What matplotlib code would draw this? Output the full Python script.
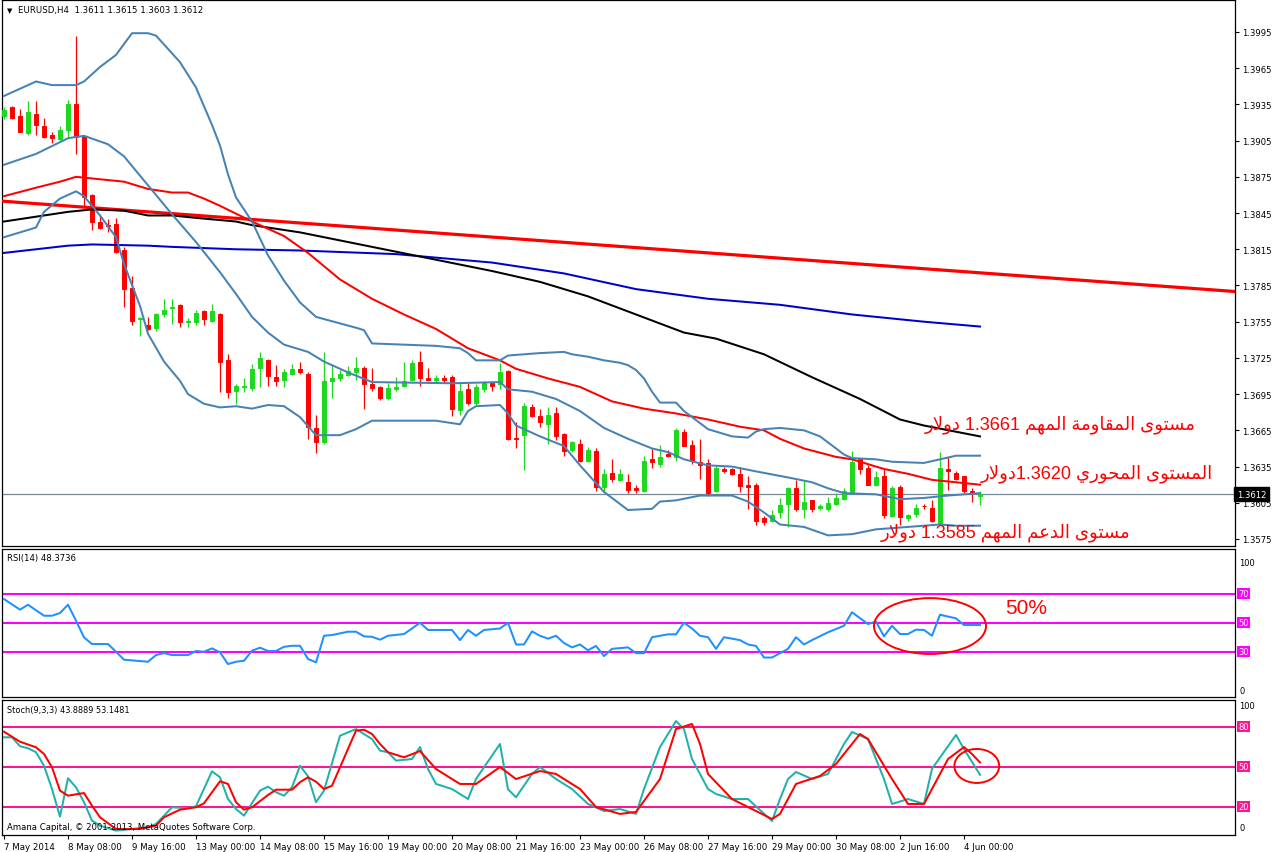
import re
import matplotlib
matplotlib.use("Agg")
import matplotlib.pyplot as plt
from matplotlib.patches import Ellipse

# ---------------- data (EURUSD H4) ----------------
opens = [1.3925, 1.3933, 1.3925, 1.3911, 1.3927, 1.3917, 1.3910, 1.3906, 1.3914, 1.3935,
         1.3909, 1.3860, 1.3838, 1.3835, 1.3836, 1.3814, 1.3783, 1.3757, 1.3752, 1.3750,
         1.3761, 1.3766, 1.3769, 1.3755, 1.3755, 1.3764, 1.3756, 1.3761, 1.3723, 1.3698,
         1.3701, 1.3700, 1.3717, 1.3723, 1.3709, 1.3707, 1.3712, 1.3716, 1.3712, 1.3667,
         1.3655, 1.3706, 1.3708, 1.3711, 1.3713, 1.3717, 1.3703, 1.3701, 1.3692, 1.3699,
         1.3702, 1.3707, 1.3722, 1.3708, 1.3707, 1.3708, 1.3709, 1.3682, 1.3699, 1.3688,
         1.3699, 1.3704, 1.3703, 1.3714, 1.3659, 1.3661, 1.3684, 1.3677, 1.3670, 1.3679,
         1.3662, 1.3649, 1.3654, 1.3640, 1.3648, 1.3618, 1.3630, 1.3624, 1.3622, 1.3617,
         1.3615, 1.3641, 1.3637, 1.3645, 1.3643, 1.3664, 1.3653, 1.3639, 1.3638, 1.3615,
         1.3633, 1.3633, 1.3629, 1.3620, 1.3620, 1.3592, 1.3590, 1.3597, 1.3604, 1.3617,
         1.3600, 1.3607, 1.3601, 1.3600, 1.3604, 1.3608, 1.3614, 1.3641, 1.3634, 1.3620,
         1.3627, 1.3594, 1.3618, 1.3592, 1.3596, 1.3602, 1.3601, 1.3588, 1.3633, 1.3630,
         1.3627, 1.3615, 1.3611]
highs = [1.3933, 1.3934, 1.3931, 1.3938, 1.3938, 1.3924, 1.3912, 1.3917, 1.3939, 1.3992,
         1.3910, 1.3861, 1.3843, 1.3840, 1.3841, 1.3817, 1.3793, 1.3759, 1.3759, 1.3762,
         1.3774, 1.3774, 1.3770, 1.3758, 1.3765, 1.3765, 1.3770, 1.3762, 1.3728, 1.3703,
         1.3708, 1.3720, 1.3730, 1.3724, 1.3719, 1.3716, 1.3720, 1.3722, 1.3713, 1.3678,
         1.3730, 1.3719, 1.3715, 1.3718, 1.3726, 1.3718, 1.3717, 1.3702, 1.3704, 1.3709,
         1.3722, 1.3723, 1.3731, 1.3717, 1.3711, 1.3711, 1.3711, 1.3704, 1.3704, 1.3703,
         1.3706, 1.3706, 1.3721, 1.3715, 1.3672, 1.3688, 1.3687, 1.3683, 1.3684, 1.3684,
         1.3663, 1.3656, 1.3658, 1.3651, 1.3650, 1.3633, 1.3641, 1.3633, 1.3629, 1.3620,
         1.3644, 1.3650, 1.3653, 1.3649, 1.3667, 1.3666, 1.3657, 1.3658, 1.3641, 1.3636,
         1.3635, 1.3634, 1.3635, 1.3627, 1.3621, 1.3594, 1.3599, 1.3609, 1.3618, 1.3624,
         1.3623, 1.3607, 1.3604, 1.3610, 1.3613, 1.3617, 1.3648, 1.3642, 1.3636, 1.3631,
         1.3633, 1.3619, 1.3620, 1.3596, 1.3604, 1.3604, 1.3607, 1.3647, 1.3643, 1.3631,
         1.3627, 1.3617, 1.3615]
lows = [1.3923, 1.3923, 1.3912, 1.3910, 1.3910, 1.3907, 1.3903, 1.3905, 1.3908, 1.3894,
        1.3850, 1.3831, 1.3832, 1.3829, 1.3812, 1.3767, 1.3752, 1.3743, 1.3748, 1.3747,
        1.3759, 1.3753, 1.3751, 1.3751, 1.3752, 1.3752, 1.3755, 1.3697, 1.3692, 1.3687,
        1.3697, 1.3698, 1.3701, 1.3702, 1.3702, 1.3701, 1.3711, 1.3712, 1.3658, 1.3646,
        1.3654, 1.3692, 1.3706, 1.3710, 1.3707, 1.3683, 1.3698, 1.3690, 1.3690, 1.3698,
        1.3701, 1.3706, 1.3702, 1.3706, 1.3704, 1.3704, 1.3677, 1.3678, 1.3686, 1.3686,
        1.3697, 1.3698, 1.3699, 1.3657, 1.3650, 1.3632, 1.3676, 1.3668, 1.3654, 1.3657,
        1.3644, 1.3647, 1.3639, 1.3639, 1.3615, 1.3614, 1.3622, 1.3623, 1.3613, 1.3613,
        1.3614, 1.3634, 1.3635, 1.3643, 1.3640, 1.3652, 1.3637, 1.3625, 1.3611, 1.3614,
        1.3630, 1.3628, 1.3614, 1.3600, 1.3587, 1.3587, 1.3589, 1.3592, 1.3585, 1.3598,
        1.3592, 1.3597, 1.3599, 1.3598, 1.3603, 1.3607, 1.3613, 1.3629, 1.3620, 1.3619,
        1.3592, 1.3593, 1.3587, 1.3590, 1.3593, 1.3600, 1.3589, 1.3587, 1.3616, 1.3624,
        1.3613, 1.3606, 1.3603]
closes = [1.3930, 1.3924, 1.3912, 1.3929, 1.3918, 1.3908, 1.3907, 1.3914, 1.3935, 1.3908,
          1.3858, 1.3838, 1.3833, 1.3834, 1.3813, 1.3782, 1.3756, 1.3758, 1.3749, 1.3761,
          1.3765, 1.3767, 1.3755, 1.3756, 1.3762, 1.3757, 1.3764, 1.3722, 1.3697, 1.3702,
          1.3702, 1.3716, 1.3725, 1.3710, 1.3706, 1.3713, 1.3716, 1.3713, 1.3668, 1.3655,
          1.3706, 1.3708, 1.3712, 1.3714, 1.3717, 1.3703, 1.3700, 1.3692, 1.3700, 1.3701,
          1.3706, 1.3721, 1.3708, 1.3707, 1.3708, 1.3707, 1.3683, 1.3698, 1.3688, 1.3701,
          1.3704, 1.3702, 1.3713, 1.3658, 1.3658, 1.3685, 1.3677, 1.3672, 1.3678, 1.3660,
          1.3648, 1.3655, 1.3640, 1.3649, 1.3618, 1.3629, 1.3625, 1.3629, 1.3616, 1.3616,
          1.3640, 1.3639, 1.3643, 1.3644, 1.3665, 1.3652, 1.3640, 1.3636, 1.3613, 1.3634,
          1.3631, 1.3629, 1.3619, 1.3618, 1.3590, 1.3589, 1.3595, 1.3603, 1.3617, 1.3600,
          1.3606, 1.3600, 1.3602, 1.3605, 1.3609, 1.3615, 1.3639, 1.3633, 1.3620, 1.3626,
          1.3595, 1.3617, 1.3593, 1.3595, 1.3601, 1.3602, 1.3590, 1.3634, 1.3631, 1.3625,
          1.3615, 1.3613, 1.3612]

# Bollinger bands (at selected bars)
bb_up_idx = [0, 4, 6, 9, 10, 12, 14, 16, 18, 19, 22, 24, 26, 27, 28, 29, 31, 33, 35, 37, 39,
             44, 45, 46, 50, 54, 57, 58, 59, 62, 63, 67, 70, 71, 73, 75, 77, 78, 79, 80, 81, 82,
             84, 85, 88, 91, 93, 94, 95, 97, 100, 102, 104, 105, 106, 109, 111, 115, 117, 119, 122]
bb_up = [1.3942, 1.3954, 1.3951, 1.3951, 1.3954, 1.3966, 1.3976, 1.3994, 1.3994, 1.3992, 1.3970,
         1.3949, 1.3918, 1.3901, 1.3877, 1.3858, 1.3838, 1.3810, 1.3789, 1.3771, 1.3759,
         1.3750, 1.3748, 1.3737, 1.3736, 1.3735, 1.3733, 1.3729, 1.3723, 1.3723, 1.3727,
         1.3729, 1.3730, 1.3728, 1.3726, 1.3723, 1.3721, 1.3719, 1.3715, 1.3708, 1.3697,
         1.3688, 1.3688, 1.3681, 1.3666, 1.3660, 1.3659, 1.3664, 1.3666, 1.3667, 1.3665,
         1.3660, 1.3650, 1.3645, 1.3642, 1.3641, 1.3639, 1.3638, 1.3641, 1.3644, 1.3644]
bb_mid_idx = [0, 4, 8, 10, 13, 15, 18, 21, 24, 27, 29, 31, 33, 35, 38, 40, 43, 46, 56, 62, 63,
              66, 69, 72, 75, 78, 81, 83, 85, 88, 91, 94, 98, 101, 103, 105, 109, 112, 115, 118, 122]
bb_mid = [1.3885, 1.3894, 1.3907, 1.3909, 1.3902, 1.3892, 1.3868, 1.3844, 1.3821, 1.3796,
          1.3778, 1.3759, 1.3746, 1.3736, 1.3730, 1.3722, 1.3713, 1.3705, 1.3704, 1.3705,
          1.3699, 1.3697, 1.3691, 1.3681, 1.3667, 1.3658, 1.3650, 1.3647, 1.3641, 1.3636,
          1.3635, 1.3631, 1.3626, 1.3622, 1.3617, 1.3613, 1.3612, 1.3608, 1.3609, 1.3611, 1.3613]
bb_low_idx = [0, 4, 5, 7, 9, 10, 12, 14, 15, 17, 18, 20, 22, 23, 25, 27, 29, 31, 33, 35, 37, 39,
              42, 44, 46, 54, 57, 58, 59, 62, 63, 64, 67, 70, 72, 75, 78, 81, 82, 84, 87, 91,
              93, 95, 97, 100, 103, 106, 109, 113, 117, 119, 122]
bb_low = [1.3825, 1.3833, 1.3846, 1.3857, 1.3863, 1.3859, 1.3843, 1.3825, 1.3803, 1.3768,
          1.3745, 1.3722, 1.3706, 1.3695, 1.3687, 1.3684, 1.3685, 1.3683, 1.3686, 1.3685,
          1.3676, 1.3661, 1.3661, 1.3666, 1.3673, 1.3673, 1.3670, 1.3681, 1.3685, 1.3686,
          1.3679, 1.3669, 1.3660, 1.3652, 1.3636, 1.3614, 1.3599, 1.3600, 1.3606, 1.3607,
          1.3611, 1.3611, 1.3606, 1.3597, 1.3587, 1.3585, 1.3578, 1.3579, 1.3583, 1.3585,
          1.3587, 1.3586, 1.3586]

# moving averages
ma_red_idx = [0, 4, 7, 9, 12, 15, 18, 21, 23, 25, 27, 31, 35, 38, 42, 46, 50, 54, 58, 62, 64,
              68, 72, 76, 80, 84, 88, 92, 95, 97, 100, 104, 106, 110, 113, 116, 119, 122]
ma_red = [1.3859, 1.3866, 1.3871, 1.3875, 1.3873, 1.3871, 1.3865, 1.3862, 1.3862, 1.3857,
          1.3851, 1.3838, 1.3826, 1.3812, 1.3790, 1.3774, 1.3761, 1.3749, 1.3733, 1.3723,
          1.3716, 1.3708, 1.3701, 1.3689, 1.3683, 1.3679, 1.3674, 1.3668, 1.3665, 1.3658,
          1.3650, 1.3643, 1.3641, 1.3633, 1.3629, 1.3624, 1.3622, 1.3620]
ma_black_idx = [0, 4, 8, 11, 15, 18, 21, 24, 29, 31, 37, 43, 49, 55, 61, 67, 73, 79, 85, 89,
                95, 101, 107, 112, 115, 122]
ma_black = [1.3838, 1.3842, 1.3846, 1.3848, 1.3847, 1.3843, 1.3843, 1.3841, 1.3838, 1.3835,
            1.3829, 1.3821, 1.3813, 1.3805, 1.3797, 1.3788, 1.3776, 1.3761, 1.3746, 1.3741,
            1.3728, 1.3709, 1.3691, 1.3674, 1.3669, 1.3660]
ma_blue_idx = [0, 4, 8, 11, 18, 21, 29, 37, 49, 61, 70, 79, 88, 97, 106, 115, 122]
ma_blue = [1.3812, 1.3815, 1.3818, 1.3819, 1.3818, 1.3817, 1.3815, 1.3814, 1.3811, 1.3804,
           1.3795, 1.3782, 1.3774, 1.3769, 1.3761, 1.3755, 1.3751]

# trend line anchors (bar, price)
trend_idx = [-0.5, 153.9]
trend_val = [1.3855, 1.3780]

last_price = 1.3612

# RSI(14)
rsi_idx = [0, 2, 3, 5, 6, 7, 8, 9, 10, 11, 13, 14, 15, 18, 19, 20, 21, 23, 24, 25, 26, 27, 28,
           29, 30, 31, 32, 33, 34, 35, 36, 37, 38, 39, 40, 41, 43, 44, 45, 46, 47, 48, 50,
           51, 52, 53, 54, 56, 57, 58, 59, 60, 62, 63, 64, 65, 66, 67, 68, 69, 70, 71, 72, 73,
           74, 75, 76, 78, 79, 80, 81, 83, 84, 85, 86, 87, 88, 89, 90, 92, 93, 94, 95, 96, 97,
           98, 99, 100, 101, 103, 105, 106, 108, 109, 110, 111, 112, 113, 114, 115, 116, 117,
           119, 120, 122]
rsi_val = [66.3, 59.0, 62.4, 54.8, 54.8, 56.7, 62.4, 51.4, 39.9, 35.3, 35.3, 30.0, 24.5, 23.1,
           27.7, 29.1, 27.7, 27.7, 30.5, 30.0, 32.3, 29.6, 21.5, 23.1, 23.8, 30.7, 32.8, 30.5,
           30.5, 33.4, 34.1, 34.1, 25.0, 22.7, 41.0, 41.5, 43.8, 43.8, 40.6, 40.3, 38.3, 41.0,
           42.2, 46.0, 50.0, 45.0, 45.0, 45.0, 38.0, 45.0, 41.0, 45.0, 46.0, 50.0, 35.0, 35.0,
           44.0, 41.0, 39.0, 41.0, 36.0, 33.0, 35.0, 31.0, 34.0, 27.0, 32.0, 33.0, 29.0, 29.0,
           40.0, 42.0, 42.0, 50.0, 46.0, 41.0, 40.0, 32.0, 40.0, 38.0, 35.0, 34.0, 26.0, 26.0,
           29.0, 32.0, 40.0, 35.0, 38.0, 43.4, 47.9, 57.2, 49.1, 50.7, 40.6, 47.9, 42.2, 42.2,
           45.2, 45.0, 41.0, 55.5, 53.0, 48.4, 48.4]

# Stochastic(9,3,3)
stk_idx = [0, 1, 2, 3, 4, 5, 6, 7, 8, 9, 10, 11, 12, 14, 16, 18, 19, 20, 21, 23, 24, 26, 27,
           28, 29, 30, 32, 33, 34, 35, 36, 37, 38, 39, 40, 42, 44, 46, 47, 48, 49, 51, 52, 53,
           54, 56, 58, 59, 62, 63, 64, 66, 67, 69, 71, 73, 75, 77, 79, 80, 82, 84, 85, 86, 88,
           89, 91, 93, 96, 97, 98, 99, 101, 103, 105, 106, 108, 110, 111, 113, 115, 116, 119,
           120, 122]
stk_val = [72.0, 72.0, 65.3, 63.8, 60.8, 50.7, 33.2, 12.5, 41.3, 34.5, 23.3, 9.5, 5.7, 2.0,
           3.2, 4.5, 7.0, 13.2, 19.5, 18.8, 20.3, 46.5, 42.0, 25.7, 18.2, 13.2, 32.0, 35.0,
           30.8, 28.2, 34.5, 50.7, 42.8, 23.3, 32.0, 73.2, 78.2, 70.7, 62.0, 60.8, 54.5, 55.7,
           64.7, 48.3, 37.0, 33.2, 25.7, 40.7, 67.0, 33.0, 27.0, 44.5, 49.7, 40.7, 33.2, 22.0,
           16.7, 18.2, 14.5, 33.2, 64.7, 84.2, 78.2, 55.7, 33.2, 29.5, 25.7, 25.7, 9.2, 25.7,
           40.7, 46.0, 40.7, 44.5, 67.0, 76.0, 70.7, 40.7, 22.0, 25.7, 22.0, 48.3, 73.8, 63.2,
           43.9]
std_idx = [0, 2, 4, 5, 6, 7, 8, 10, 11, 12, 14, 17, 19, 20, 22, 24, 25, 27, 28, 29, 30, 31,
           33, 34, 36, 37, 38, 39, 40, 41, 42, 44, 45, 46, 47, 48, 50, 52, 54, 57, 59, 62, 64,
           67, 69, 72, 74, 77, 79, 82, 84, 86, 87, 88, 91, 93, 96, 97, 99, 102, 104, 107, 108,
           111, 113, 115, 118, 120, 121, 122]
std_val = [76.2, 68.7, 64.5, 59.5, 49.5, 32.0, 28.2, 30.2, 20.7, 12.0, 3.2, 3.2, 5.7, 12.0,
           17.7, 19.5, 22.5, 39.0, 37.0, 23.3, 17.7, 19.5, 28.7, 32.7, 32.7, 38.3, 42.0, 38.7,
           33.2, 35.7, 49.5, 77.0, 77.7, 74.5, 67.0, 60.8, 57.0, 61.7, 48.2, 37.0, 37.0, 49.7,
           40.7, 46.7, 44.5, 33.2, 19.7, 14.5, 16.0, 40.7, 78.2, 82.0, 67.0, 44.5, 25.7, 19.7,
           10.7, 14.5, 37.0, 43.0, 52.0, 74.5, 70.7, 40.7, 22.0, 22.0, 55.7, 64.7, 59.5, 53.1]

date_idx = [0, 8, 16, 24, 32, 40, 48, 56, 64, 72, 80, 88, 96, 104, 112, 120]
date_labels = ["7 May 2014", "8 May 08:00", "9 May 16:00", "13 May 00:00", "14 May 08:00",
               "15 May 16:00", "19 May 00:00", "20 May 08:00", "21 May 16:00", "23 May 00:00",
               "26 May 08:00", "27 May 16:00", "29 May 00:00", "30 May 08:00", "2 Jun 16:00",
               "4 Jun 00:00"]
price_ticks = [1.3575, 1.3605, 1.3635, 1.3665, 1.3695, 1.3725, 1.3755, 1.3785, 1.3815,
               1.3845, 1.3875, 1.3905, 1.3935, 1.3965, 1.3995]
rsi_levels = [70, 50, 30]
stoch_levels = [80, 50, 20]

txt_resist = "مستوى المقاومة المهم 1.3661 دولار"
txt_pivot = "المستوى المحوري 1.3620دولار"
txt_support = "مستوى الدعم المهم 1.3585 دولار"

# ---------------- arabic shaping (no shaping engine in matplotlib) ----------------
AR = {
    'ا': ('\uFE8D', '\uFE8E', None, None), 'د': ('\uFEA9', '\uFEAA', None, None),
    'ر': ('\uFEAD', '\uFEAE', None, None), 'و': ('\uFEED', '\uFEEE', None, None),
    'ة': ('\uFE93', '\uFE94', None, None), 'ى': ('\uFEEF', '\uFEF0', None, None),
    'م': ('\uFEE1', '\uFEE2', '\uFEE3', '\uFEE4'), 'س': ('\uFEB1', '\uFEB2', '\uFEB3', '\uFEB4'),
    'ت': ('\uFE95', '\uFE96', '\uFE97', '\uFE98'), 'ل': ('\uFEDD', '\uFEDE', '\uFEDF', '\uFEE0'),
    'ق': ('\uFED5', '\uFED6', '\uFED7', '\uFED8'), 'ه': ('\uFEE9', '\uFEEA', '\uFEEB', '\uFEEC'),
    'ح': ('\uFEA1', '\uFEA2', '\uFEA3', '\uFEA4'), 'ي': ('\uFEF1', '\uFEF2', '\uFEF3', '\uFEF4'),
    'ع': ('\uFEC9', '\uFECA', '\uFECB', '\uFECC'),
    'لا': ('\uFEFB', '\uFEFC', None, None),
}


def shape_word(w):
    units = []
    k = 0
    while k < len(w):
        if w[k] == 'ل' and k + 1 < len(w) and w[k + 1] == 'ا':
            units.append('لا')
            k += 2
        else:
            units.append(w[k])
            k += 1
    out = []
    for n, u in enumerate(units):
        f = AR[u]
        prev_joins = n > 0 and AR[units[n - 1]][2] is not None
        next_joins = n < len(units) - 1 and f[2] is not None
        if prev_joins and next_joins:
            out.append(f[3])
        elif prev_joins:
            out.append(f[1])
        elif next_joins:
            out.append(f[2])
        else:
            out.append(f[0])
    return ''.join(reversed(out))


def visual(s):
    toks = re.findall(r'[0-9.%]+|\s+|[^\s0-9.%]+', s)
    res = []
    for t in reversed(toks):
        if re.match(r'[0-9.%\s]+$', t):
            res.append(t)
        else:
            res.append(shape_word(t))
    return ''.join(res)


# ---------------- figure ----------------
W, H = 1276, 853
fig = plt.figure(figsize=(W / 100, H / 100), dpi=100)
fig.patch.set_facecolor("white")


def px_axes(x0, y0, x1, y1):
    return fig.add_axes([x0 / W, 1 - y1 / H, (x1 - x0) / W, (y1 - y0) / H])


def ftext(x, y, s, **kw):
    return fig.text(x / W, 1 - y / H, s, **kw)


ax = px_axes(2, 1, 1235, 547)
ax_rsi = px_axes(2, 550, 1235, 698)
ax_st = px_axes(2, 701, 1235, 836)

xlim = (-0.25, 153.875)
for a in (ax, ax_rsi, ax_st):
    a.set_xlim(*xlim)
    for sp in a.spines.values():
        sp.set_linewidth(0.9)
        sp.set_color("black")
    a.set_facecolor("white")

ax.set_ylim(1.35692, 1.40215)
ax_rsi.set_ylim(-1.2, 100.8)
ax_st.set_ylim(-1.3, 100)

# candles
GREEN, RED = "#1ed81e", "#ff0000"
n = len(closes)
xs = list(range(n))
cols = [GREEN if c > o else RED for o, c in zip(opens, closes)]
ax.vlines(xs, lows, highs, colors=cols, linewidth=0.9, zorder=2)
bottoms = [min(o, c) for o, c in zip(opens, closes)]
heights = [abs(c - o) for o, c in zip(opens, closes)]
ax.bar(xs, heights, bottom=bottoms, width=0.6, color=cols, edgecolor=cols,
       linewidth=0.7, zorder=3)

# indicators on price chart
lw = 1.45
ax.plot(trend_idx, trend_val, color="#ff0000", linewidth=2.3, zorder=4, solid_capstyle="butt")
ax.plot(ma_blue_idx, ma_blue, color="#0000cd", linewidth=lw, zorder=4)
ax.plot(ma_black_idx, ma_black, color="black", linewidth=lw, zorder=4)
ax.plot(ma_red_idx, ma_red, color="#ff0000", linewidth=lw, zorder=4)
for bi, bv in ((bb_up_idx, bb_up), (bb_mid_idx, bb_mid), (bb_low_idx, bb_low)):
    ax.plot(bi, bv, color="#4682b4", linewidth=lw, zorder=5)
ax.axhline(last_price, color="#778899", linewidth=0.9, zorder=1)

ax.set_xticks([])
ax.yaxis.tick_right()
ax.set_yticks(price_ticks)
ax.set_yticklabels([f"{t:.4f}" for t in price_ticks], fontsize=6.1, family="DejaVu Sans")
ax.tick_params(axis="y", direction="out", length=3, width=0.8, pad=2)
ax.text(1.0 + 2 / 1233, last_price, f"{last_price:.4f}", transform=ax.get_yaxis_transform(),
        fontsize=6.1, color="white", va="center", ha="left", clip_on=False, zorder=10,
        bbox=dict(boxstyle="square,pad=0.3", fc="black", ec="black"))

# header
ftext(10, 11, "\u25bc", fontsize=5, ha="center", va="center")
ftext(18, 11, "EURUSD,H4  1.3611 1.3615 1.3603 1.3612", fontsize=6.2, va="center",
      family="DejaVu Sans")

# arabic notes
ar_kw = dict(fontsize=13, color="#ff0000", va="center", ha="right",
             family=["Liberation Sans", "DejaVu Sans"])
ftext(1196, 425, visual(txt_resist), **ar_kw)
ftext(1213, 474, visual(txt_pivot), **ar_kw)
ftext(1130, 533, visual(txt_support), **ar_kw)

# RSI panel
for lv in rsi_levels:
    ax_rsi.axhline(lv, color="#ff00ff", linewidth=1.45, zorder=1)
    ax_rsi.text(1.0 + 3 / 1233, lv, str(lv), transform=ax_rsi.get_yaxis_transform(),
                fontsize=6.0, color="white", va="center", ha="left", clip_on=False,
                bbox=dict(boxstyle="square,pad=0.12", fc="#ff00ff", ec="none"))
ax_rsi.plot(rsi_idx, rsi_val, color="#1e90ff", linewidth=1.45, zorder=3)
ax_rsi.set_xticks([])
ax_rsi.set_yticks([])
ax_rsi.text(1.0 + 4 / 1233, 0.912, "100", transform=ax_rsi.transAxes, fontsize=6.0,
            va="center", ha="left")
ax_rsi.text(1.0 + 4 / 1233, 0.047, "0", transform=ax_rsi.transAxes, fontsize=6.0,
            va="center", ha="left")
ax_rsi.text(5 / 1233, 0.94, "RSI(14) 48.3736", transform=ax_rsi.transAxes, fontsize=6.1,
            va="center", ha="left")
ax_rsi.add_patch(Ellipse((115.75, 47.7), 14.0, 38.5, fill=False, edgecolor="#ff0000",
                         linewidth=1.4, zorder=4))
ax_rsi.text(127.8, 60.8, "50%", fontsize=15, color="#ff0000", ha="center", va="center",
            family="Liberation Sans")

# Stochastic panel
for lv in stoch_levels:
    ax_st.axhline(lv, color="#ff1493", linewidth=1.45, zorder=1)
    ax_st.text(1.0 + 3 / 1233, lv, str(lv), transform=ax_st.get_yaxis_transform(),
               fontsize=6.0, color="white", va="center", ha="left", clip_on=False,
               bbox=dict(boxstyle="square,pad=0.12", fc="#ff1493", ec="none"))
ax_st.plot(stk_idx, stk_val, color="#20b2aa", linewidth=1.45, zorder=3)
ax_st.plot(std_idx, std_val, color="#ff0000", linewidth=1.45, zorder=4)
ax_st.set_yticks([])
ax_st.text(1.0 + 4 / 1233, 0.956, "100", transform=ax_st.transAxes, fontsize=6.0,
           va="center", ha="left")
ax_st.text(1.0 + 4 / 1233, 0.059, "0", transform=ax_st.transAxes, fontsize=6.0,
           va="center", ha="left")
ax_st.text(5 / 1233, 0.93, "Stoch(9,3,3) 43.8889 53.1481", transform=ax_st.transAxes,
           fontsize=5.9, va="center", ha="left")
ax_st.text(5 / 1233, 0.06, "Amana Capital, \u00a9 2001-2013, MetaQuotes Software Corp.",
           transform=ax_st.transAxes, fontsize=6.1, va="center", ha="left", zorder=6)
ax_st.add_patch(Ellipse((121.6, 50.5), 5.6, 25.5, fill=False, edgecolor="#ff0000",
                        linewidth=1.4, zorder=5))
ax_st.set_xticks(date_idx)
ax_st.set_xticklabels(date_labels, ha="left", fontsize=6.2, family="DejaVu Sans")
ax_st.tick_params(axis="x", direction="out", length=3, width=0.8, pad=2)

fig.savefig("out.png", dpi=100)
